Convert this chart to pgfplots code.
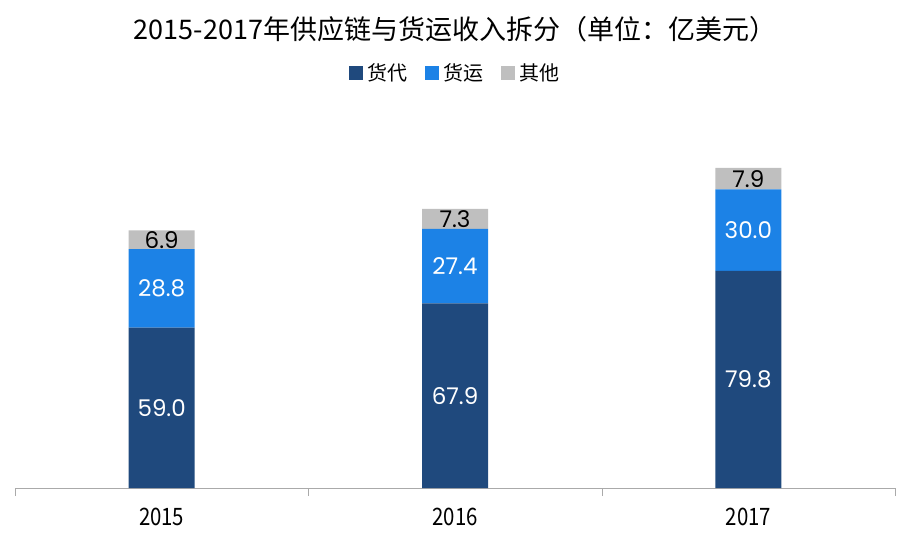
\documentclass[border=0pt]{standalone}
\usepackage{pgfplots}
\pgfplotsset{compat=1.18}
\usepackage{fontspec}
\setmainfont{Noto Sans CJK SC}
\newfontfamily\numfont{Poppins}
\newfontfamily\narrowfont[FakeStretch=0.85]{Noto Sans CJK SC}
\definecolor{c1}{RGB}{31,73,125}
\definecolor{c2}{RGB}{28,130,230}
\definecolor{c3}{RGB}{191,191,191}
\definecolor{axgray}{RGB}{170,170,170}
\begin{document}
\begin{tikzpicture}
\path[use as bounding box] (0,0) rectangle (909pt,538pt);
\begin{axis}[
  at={(15pt,50pt)}, anchor=south west,
  scale only axis, width=880pt, height=378pt,
  ybar stacked, bar width=66pt,
  xmin=-0.5, xmax=2.5, ymin=0, ymax=139,
  axis x line*=bottom, axis y line=none,
  axis line style={draw=axgray, -},
  xtick={0,1,2}, xticklabels={2015,2016,2017},
  major tick length=0pt,
  xticklabel style={font=\narrowfont\fontsize{24}{27}\selectfont, anchor=center, yshift=-29pt, text=black},
  extra x ticks={-0.5,0.5,1.5,2.5}, extra x tick labels={},
  extra x tick style={major tick length=8pt, tick align=outside, tick style={draw=axgray}},
  tick pos=bottom,
  title={2015-2017年供应链与货运收入拆分（单位：亿美元）},
  title style={font=\fontsize{27}{31}\selectfont, at={(0.5,1)}, anchor=center, yshift=75pt},
  legend columns=3,
  legend style={at={(0.5,1)}, anchor=center, yshift=37pt, draw=none, fill=none,
    font=\fontsize{20}{24}\selectfont,
    /tikz/every odd column/.append style={column sep=2pt},
    /tikz/every even column/.append style={column sep=16pt}},
  legend image code/.code={\fill[#1] (0pt,-7pt) rectangle (14pt,7pt);},
]
\addplot[fill=c1, draw=none] coordinates {(0,59.0) (1,67.9) (2,79.8)};
\addplot[fill=c2, draw=none] coordinates {(0,28.8) (1,27.4) (2,30.0)};
\addplot[fill=c3, draw=none] coordinates {(0,6.9) (1,7.3) (2,7.9)};
\legend{货代,货运,其他}
\end{axis}
\begin{axis}[
  at={(15pt,50pt)}, anchor=south west,
  scale only axis, width=880pt, height=378pt,
  xmin=-0.5, xmax=2.5, ymin=0, ymax=139,
  hide axis,
  point meta=explicit symbolic,
  nodes near coords,
  nodes near coords style={anchor=center, font=\numfont\fontsize{23}{27}\selectfont},
]
\addplot[draw=none, mark=none, nodes near coords style={text=white}] coordinates {(0,29.5) [59.0] (1,33.95) [67.9] (2,39.9) [79.8]};
\addplot[draw=none, mark=none, nodes near coords style={text=white}] coordinates {(0,73.4) [28.8] (1,81.6) [27.4] (2,94.8) [30.0]};
\addplot[draw=none, mark=none, nodes near coords style={text=black}] coordinates {(0,91.25) [6.9] (1,98.95) [7.3] (2,113.75) [7.9]};
\end{axis}
\end{tikzpicture}
\end{document}
